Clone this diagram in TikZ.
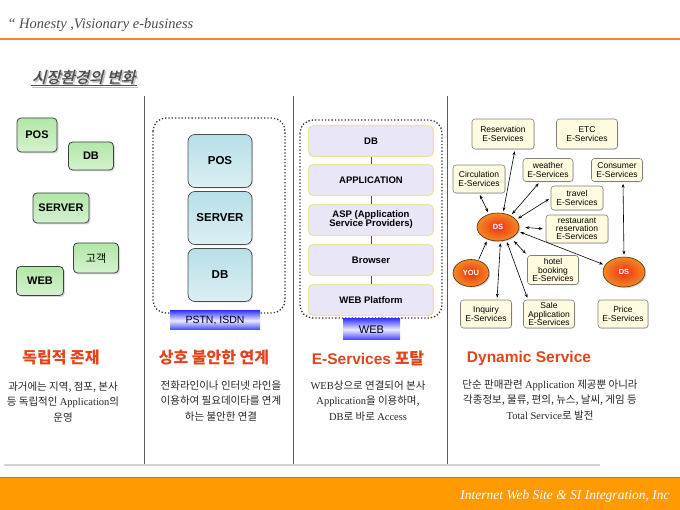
\documentclass[tikz,border=0pt]{standalone}
\usepackage{fontspec}
\setmainfont{Liberation Serif}
\setsansfont{Liberation Sans}
\newfontfamily\kr{Noto Sans CJK KR}
\newfontfamily\krtitle[FakeSlant=0.25,FakeBold=1.5]{Noto Sans CJK KR}
\usepackage{xcolor}
\usepackage{tikz}
\usetikzlibrary{positioning}
\usetikzlibrary{arrows, arrows.meta, shadows, calc, shapes.geometric}

\definecolor{hdrorange}{HTML}{E8893C}
\definecolor{footorange}{HTML}{FF9A00}
\definecolor{footedge}{HTML}{E2661A}
\definecolor{headred}{HTML}{E2441C}
\definecolor{boxgreen}{HTML}{B2E6A8}
\definecolor{boxcyan}{HTML}{B8DFE8}
\definecolor{boxlav}{HTML}{E8E6F7}
\definecolor{boxyel}{HTML}{EDE3A0}
\definecolor{boxcream}{HTML}{FFFBE0}
\definecolor{dsred}{HTML}{F2300F}
\definecolor{dsorange}{HTML}{F08A26}

\begin{document}
\begin{tikzpicture}[x=1pt,y=-1pt,
  gbox/.style={draw=black!75, line width=0.8pt, rounded corners=4pt,
    bottom color=boxgreen!55!white, top color=boxgreen, inner sep=0pt,
    font=\sffamily\bfseries\fontsize{11}{11}\selectfont,
    drop shadow={shadow xshift=1.5pt, shadow yshift=-1.5pt, opacity=0.3}},
  cbox/.style={draw=black!70, line width=0.7pt, rounded corners=7pt,
    bottom color=boxcyan!50!white, top color=boxcyan, inner sep=0pt,
    minimum width=64pt, minimum height=53pt,
    font=\sffamily\bfseries\fontsize{11.5}{11.5}\selectfont,
    drop shadow={shadow xshift=1pt, shadow yshift=-1pt, opacity=0.3}},
  lbox/.style={draw=boxyel, line width=1.2pt, rounded corners=5pt,
    fill=boxlav, inner sep=0pt, align=center,
    minimum width=125pt, minimum height=31pt,
    font=\sffamily\bfseries\fontsize{9.5}{9}\selectfont},
  ebox/.style={draw=black!50, line width=0.6pt, rounded corners=3pt,
    fill=boxcream, inner sep=0pt, align=center,
    font=\sffamily\fontsize{8.5}{8.2}\selectfont,
    drop shadow={shadow xshift=0.8pt, shadow yshift=-0.8pt, opacity=0.2}},
  dsnode/.style={ellipse, draw=black!65!orange, line width=0.6pt,
    inner color=dsred, outer color=dsorange, inner sep=0pt,
    text=white, font=\sffamily\bfseries\fontsize{7.5}{7.5}\selectfont,
    drop shadow={shadow xshift=1.2pt, shadow yshift=-1.2pt, opacity=0.35}},
  bar/.style={inner sep=0pt, bottom color=blue!75!white, top color=blue!75!white,
    middle color=blue!8, font=\sffamily\fontsize{10.5}{10.5}\selectfont},
  dotbox/.style={draw=black!80, dotted, line width=1.3pt, rounded corners=13pt},
  dblarrow/.style={{Stealth[length=4pt,width=3pt]}-{Stealth[length=4pt,width=3pt]},
    line width=0.6pt, shorten <=2pt, shorten >=2pt},
  onearrow/.style={-{Stealth[length=4pt,width=3pt]}, line width=0.6pt,
    shorten <=1pt, shorten >=2pt},
  headtxt/.style={text=headred, font=\kr\bfseries\fontsize{16}{16}\selectfont},
  bodytxt/.style={align=center, text=black!85, font=\fontsize{10.5}{15.5}\selectfont}]

  \useasboundingbox (0,0) rectangle (680,510);
  \def\sepA{144}
  \def\sepB{293}
  \def\sepC{447}

  % header
  \node[anchor=west, text=black!70, font=\itshape\fontsize{14.5}{14.5}\selectfont]
    (motto) at (4,25) {\textquotedblleft\ Honesty ,Visionary e-business};
  \draw[hdrorange, line width=1.6pt] (0,39) -- (680,39);

  \node[anchor=west, text=black!25, font=\krtitle\fontsize{15.5}{15.5}\selectfont]
    (titleshadow) at (30,78.5) {시장환경의 변화};
  \node[anchor=west, text=black!70, font=\krtitle\fontsize{15.5}{15.5}\selectfont]
    (title) at (28.5,77) {시장환경의 변화};
  \draw[black!25, line width=1pt] ($(titleshadow.south west)+(2,-2)$) -- ($(titleshadow.south east)+(-2,-2)$);
  \draw[black!70, line width=1pt] ($(title.south west)+(2,-2)$) -- ($(title.south east)+(-2,-2)$);

  % separators
  \foreach \sx in {\sepA,\sepB,\sepC}
    \draw[black!65, line width=0.9pt] (\sx,96) -- (\sx,464);
  \draw[black!18, line width=2pt] (4,465) -- (600,465);

  % footer
  \fill[footorange] (0,477) rectangle (680,510);
  \draw[footedge, line width=1pt] (0,477) -- (680,477);
  \node[anchor=east, text=white, font=\itshape\fontsize{13.5}{13.5}\selectfont]
    (company) at (673,496) {Internet Web Site \& SI Integration, Inc};

  % independent
  \node[gbox, minimum width=40pt, minimum height=34pt] (POS1) at (37,135) {POS};
  \node[gbox, minimum width=45pt, minimum height=28pt] (DB1) at (91,156) {DB};
  \node[gbox, minimum width=56pt, minimum height=30pt] (SRV1) at (61,208) {SERVER};
  \node[gbox, minimum width=45pt, minimum height=30pt, font=\kr\fontsize{11}{11}\selectfont] (CUS1) at (96,258) {고객};
  \node[gbox, minimum width=47pt, minimum height=29pt] (WEB1) at (40,281) {WEB};

  % unstable link
  \draw[dotbox] (153,118) rectangle (285,313);
  \node[cbox] (POS2) at (220,161) {POS};
  \node[cbox] (SRV2) at (220,218) {SERVER};
  \node[cbox] (DB2) at (220,275) {DB};
  \node[bar, minimum width=90pt, minimum height=19pt] (pstn) at (215,320.5) {PSTN, ISDN};

  % portal
  \draw[dotbox] (300,120) rectangle (442,318);
  \node[lbox] (DB3) at (371,141) {DB};
  \node[lbox] (APP3) at (371,180) {APPLICATION};
  \node[lbox] (ASP3) at (371,220) {ASP (Application\\Service Providers)};
  \node[lbox] (BRW3) at (371,260) {Browser};
  \node[lbox] (WPF3) at (371,300) {WEB Platform};
  \foreach \a/\b in {DB3/APP3, APP3/ASP3, ASP3/BRW3, BRW3/WPF3}
    \draw[black!70, line width=0.8pt] (\a.south) -- (\b.north);
  \node[bar, minimum width=57pt, minimum height=21pt, font=\sffamily\fontsize{11}{11}\selectfont] (web) at (371.5,329.5) {WEB};

  % dynamic service
  \node[ebox, minimum width=62pt, minimum height=30pt] (resv) at (503,134) {Reservation\\E-Services};
  \node[ebox, minimum width=61pt, minimum height=30pt] (etc) at (587,134) {ETC\\E-Services};
  \node[ebox, minimum width=52pt, minimum height=28pt] (circ) at (479,179) {Circulation\\E-Services};
  \node[ebox, minimum width=50pt, minimum height=23pt] (wthr) at (548,170) {weather\\E-Services};
  \node[ebox, minimum width=51pt, minimum height=23pt] (cons) at (617,170) {Consumer\\E-Services};
  \node[ebox, minimum width=52pt, minimum height=24pt] (trvl) at (577,198) {travel\\E-Services};
  \node[ebox, minimum width=62pt, minimum height=28pt] (rest) at (577,229) {restaurant\\reservation\\E-Services};
  \node[ebox, minimum width=51pt, minimum height=29pt] (hotl) at (553,270) {hotel\\booking\\E-Services};
  \node[ebox, minimum width=51pt, minimum height=28pt] (inq) at (486,314) {Inquiry\\E-Services};
  \node[ebox, minimum width=51pt, minimum height=28pt] (sale) at (549,314) {Sale\\Application\\E-Services};
  \node[ebox, minimum width=50pt, minimum height=28pt] (price) at (623,314) {Price\\E-Services};

  \node[dsnode, minimum width=42pt, minimum height=28pt] (ds1) at (498,227) {DS};
  \node[dsnode, minimum width=36pt, minimum height=27pt] (you) at (471,273) {YOU};
  \node[dsnode, minimum width=42pt, minimum height=30pt] (ds2) at (624,272) {DS};

  \draw[dblarrow] (ds1.70) -- ($(resv.south)+(12,0)$);
  \draw[dblarrow] (circ.south) -- (ds1.125);
  \draw[dblarrow] (ds1.42) -- ($(wthr.south)+(-8,0)$);
  \draw[dblarrow] (ds1.22) -- (trvl.west);
  \draw[dblarrow, shorten <=6pt, shorten >=3pt] (ds1.east) -- (rest.west);
  \draw[dblarrow] (ds1.-12) -- (ds2.160);
  \draw[dblarrow, shorten <=4pt] (ds1.-40) -- (hotl.north west);
  \draw[onearrow] (you.60) -- (ds1.-130);
  \draw[dblarrow] (ds1.-80) -- ($(inq.north)+(11,0)$);
  \draw[dblarrow] (ds1.-58) -- ($(sale.north)+(-21,0)$);
  \draw[dblarrow] ($(cons.south)+(6,0)$) -- (ds2.north);

  % captions
  \node[headtxt] (hdA) at (61,358) {독립적 존재};
  \node[headtxt] (hdB) at (214,358) {상호 불안한 연계};
  \node[headtxt] (hdC) at (368,358) {{\sffamily\fontsize{15.5}{15.5}\selectfont E-Services} 포탈};
  \node[headtxt] (hdD) at (529,358) {{\sffamily\fontsize{15.5}{15.5}\selectfont Dynamic Service}};

  \node[bodytxt] (txA) at (63,402)
    {{\kr 과거에는 지역, 점포, 본사}\\{\kr 등 독립적인 }Application{\kr 의}\\{\kr 운영}};
  \node[bodytxt] (txB) at (221,401)
    {{\kr 전화라인이나 인터넷 라인을}\\{\kr 이용하여 필요데이타를 연계}\\{\kr 하는 불안한 연결}};
  \node[bodytxt] (txC) at (368,401)
    {WEB{\kr 상으로 연결되어 본사}\\Application{\kr 을 이용하며,}\\DB{\kr 로 바로 }Access};
  \node[bodytxt] (txD) at (550,400)
    {{\kr 단순 판매관련 }Application {\kr 제공뿐 아니라}\\{\kr 각종정보, 물류, 편의, 뉴스, 날씨, 게임 등}\\Total Service{\kr 로 발전}};

\end{tikzpicture}
\end{document}
